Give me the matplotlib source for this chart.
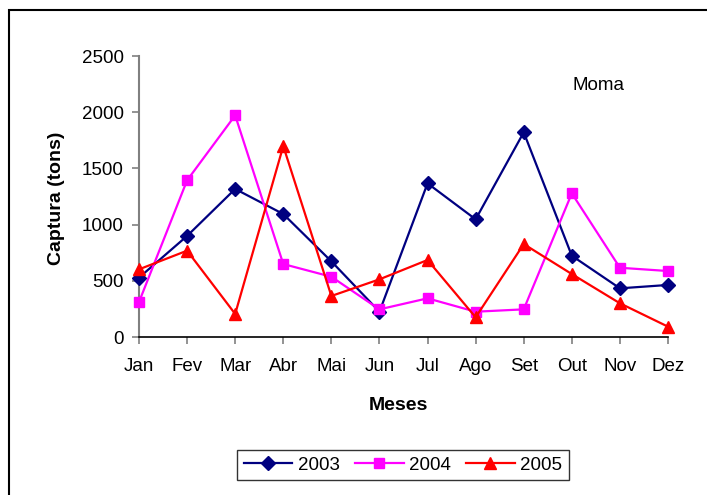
import matplotlib
matplotlib.use("Agg")
import matplotlib.pyplot as plt
from matplotlib.patches import Rectangle

months = ["Jan", "Fev", "Mar", "Abr", "Mai", "Jun", "Jul", "Ago", "Set", "Out", "Nov", "Dez"]
y2003 = [528, 899, 1317, 1094, 673, 225, 1367, 1047, 1821, 723, 433, 463]
y2004 = [311, 1394, 1972, 649, 536, 246, 344, 225, 246, 1278, 616, 587]
y2005 = [602, 768, 205, 1699, 365, 513, 685, 175, 827, 560, 300, 92]
yticks = [0, 500, 1000, 1500, 2000, 2500]

plt.rcParams['font.family'] = ['Liberation Sans', 'DejaVu Sans']

fig = plt.figure(figsize=(7.07, 4.95), dpi=100)
fig.patches.append(Rectangle((9 / 707, -0.1), 1.2, (495 - 10) / 495 + 0.1,
                             transform=fig.transFigure, fill=False,
                             edgecolor='black', linewidth=1.5))

ax = fig.add_axes([139 / 707, (495 - 337) / 495, (668 - 139) / 707, (337 - 56) / 495])
x = list(range(len(months)))
ax.plot(x, y2003, color='#000080', marker='D', markersize=7, linewidth=1.6, label='2003', clip_on=False, zorder=3)
ax.plot(x, y2004, color='#FF00FF', marker='s', markersize=7, linewidth=1.6, label='2004', clip_on=False, zorder=3)
ax.plot(x, y2005, color='#FF0000', marker='^', markersize=9, linewidth=1.6, label='2005', clip_on=False, zorder=3)

ax.set_xlim(0, 11)
ax.set_ylim(0, 2500)
ax.set_xticks(x)
ax.set_xticklabels(months)
ax.set_yticks(yticks)
ax.tick_params(axis='both', labelsize=13.5, direction='out', length=5, color='#808080', width=1.2)
ax.tick_params(axis='y', pad=6)
ax.tick_params(axis='x', pad=10)
for s in ['top', 'right']:
    ax.spines[s].set_visible(False)
ax.spines['left'].set_color('#808080')
ax.spines['left'].set_linewidth(1.5)
ax.spines['bottom'].set_color('black')
ax.spines['bottom'].set_linewidth(1.2)

fig.text(57 / 707, (495 - 198) / 495, 'Captura (tons)', rotation=90, ha='center', va='center',
         fontsize=14, fontweight='bold')
fig.text(398 / 707, (495 - 405) / 495, 'Meses', ha='center', va='center', fontsize=14, fontweight='bold')
fig.text(598 / 707, (495 - 86) / 495, 'Moma', ha='center', va='center', fontsize=13.5)

leg = fig.legend(loc='center', bbox_to_anchor=(403 / 707, (495 - 465) / 495), ncol=3,
                 fontsize=13.5, frameon=True, fancybox=False, edgecolor='black',
                 handlelength=2.6, columnspacing=0.8, handletextpad=0.3, borderpad=0.35)
leg.get_frame().set_linewidth(1.0)

fig.savefig('out.png', dpi=100)
